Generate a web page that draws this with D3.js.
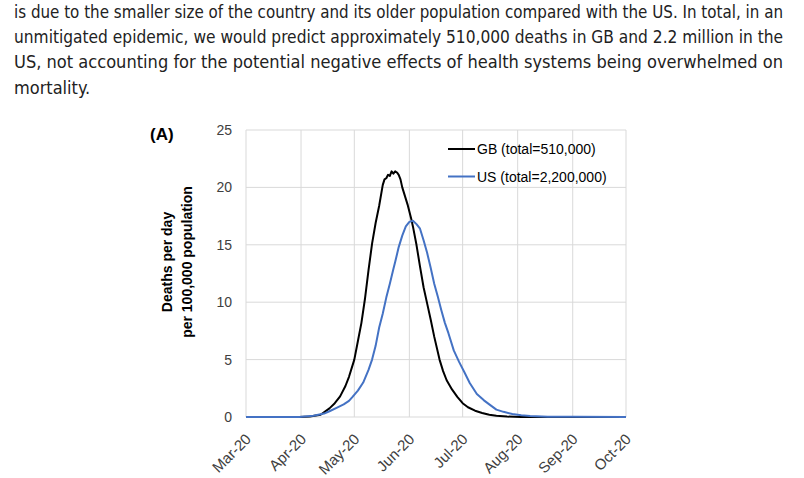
<!DOCTYPE html>
<html>
<head>
<meta charset="utf-8">
<script src="https://cdn.jsdelivr.net/npm/d3@7"></script>
<style>
    body { margin: 0; background: #fff; }
    svg { display: block; }
    .para { font-family: "Liberation Sans Narrow", "DejaVu Sans Condensed", "Liberation Sans", sans-serif; font-size: 18px; fill: #222; }
    .chart text { font-family: "Liberation Sans", Arial, sans-serif; fill: #404040; }
</style>
</head>
<body>
<svg id="fig" width="804" height="478"></svg>
<script>
var paraLines = [
    "is due to the smaller size of the country and its older population compared with the US. In total, in an",
    "unmitigated epidemic, we would predict approximately 510,000 deaths in GB and 2.2 million in the",
    "US, not accounting for the potential negative effects of health systems being overwhelmed on",
    "mortality."
];

// days counted from 1 Mar 2020
var startDate = new Date(2020, 2, 1);
var gbDays = [0, 14, 30, 36, 42, 47, 50, 53, 56, 58, 61, 63, 65, 67, 69, 71, 73, 75, 77, 78, 79, 80, 81, 82, 83, 84, 85, 86, 87, 88, 90, 91, 93, 94, 96, 98, 100, 102, 104, 106, 109, 111, 113, 116, 119, 122, 125, 129, 133, 137, 141, 147, 155, 214];
var gbValues = [0, 0, 0, 0.05, 0.2, 0.75, 1.2, 1.8, 2.7, 3.5, 5.0, 6.6, 8.2, 10.3, 12.8, 15.1, 16.9, 18.4, 20.2, 20.7, 20.8, 21.1, 21.0, 21.4, 21.2, 21.4, 21.3, 21.1, 20.7, 20.0, 19.0, 18.5, 17.3, 16.6, 15.0, 13.1, 11.3, 9.9, 8.5, 7.0, 5.0, 4.0, 3.2, 2.4, 1.75, 1.2, 0.85, 0.55, 0.35, 0.2, 0.1, 0.04, 0, 0];
var usDays = [0, 30, 38, 44, 47, 51, 55, 58, 60, 63, 66, 69, 71, 73, 75, 77, 79, 81, 83, 84, 86, 88, 90, 92, 94, 96, 98, 100, 102, 104, 106, 108, 110, 112, 114, 117, 120, 123, 126, 130, 134, 137, 141, 145, 150, 155, 160, 170, 185, 214];
var usValues = [0, 0, 0.1, 0.3, 0.5, 0.8, 1.1, 1.4, 1.75, 2.3, 3.0, 4.1, 5.0, 6.2, 7.8, 9.0, 10.4, 11.6, 12.9, 13.5, 14.8, 15.8, 16.6, 17.0, 17.1, 16.8, 16.4, 15.4, 14.3, 13.0, 11.6, 10.5, 9.3, 8.2, 7.3, 5.8, 4.8, 3.9, 2.96, 2.0, 1.45, 1.1, 0.64, 0.45, 0.26, 0.15, 0.08, 0.03, 0.02, 0];
var yTicks = [0, 5, 10, 15, 20, 25];
var monthTicks = ["2020-03-01", "2020-04-01", "2020-05-01", "2020-06-01", "2020-07-01", "2020-08-01", "2020-09-01", "2020-10-01"];
var seriesNames = ["GB (total=510,000)", "US (total=2,200,000)"];
var seriesColors = ["#000000", "#4472c4"];

var svg = d3.select("#fig");

// paragraph above the figure, justified except the last line
svg.selectAll("text.para")
    .data(paraLines)
  .enter().append("text")
    .attr("class", "para")
    .attr("x", 14)
    .attr("y", function(d, i) { return 18 + i * 25.2; })
    .each(function(d, i) {
	if (i < paraLines.length - 1)
	    d3.select(this).attr("textLength", 769).attr("lengthAdjust", "spacingAndGlyphs");
    })
    .text(function(d) { return d; });

var g = svg.append("g").attr("class", "chart");
var plotL = 246, plotR = 626, plotT = 130, plotB = 417;

var x = d3.scaleTime()
    .domain([new Date(2020, 2, 1), new Date(2020, 9, 1)])
    .range([plotL, plotR]);
var y = d3.scaleLinear()
    .domain([0, 25])
    .range([plotB, plotT]);

var parse = d3.timeParse("%Y-%m-%d");
var fmt = d3.timeFormat("%b-%y");
var months = monthTicks.map(parse);

// gridlines
g.selectAll("line.hgrid")
    .data(yTicks)
  .enter().append("line")
    .attr("class", "hgrid")
    .attr("x1", plotL).attr("x2", plotR)
    .attr("y1", function(d) { return y(d); })
    .attr("y2", function(d) { return y(d); })
    .attr("stroke", "#d9d9d9").attr("stroke-width", 1);
g.selectAll("line.vgrid")
    .data(months)
  .enter().append("line")
    .attr("class", "vgrid")
    .attr("x1", function(d) { return x(d); })
    .attr("x2", function(d) { return x(d); })
    .attr("y1", plotT).attr("y2", plotB)
    .attr("stroke", "#d9d9d9").attr("stroke-width", 1);

// y tick labels
g.selectAll("text.ytick")
    .data(yTicks)
  .enter().append("text")
    .attr("class", "ytick")
    .attr("x", 232)
    .attr("y", function(d) { return y(d); })
    .attr("dy", "0.36em")
    .attr("text-anchor", "end")
    .style("font-size", "14px")
    .text(function(d) { return d; });

// x tick labels, slanted
g.selectAll("text.xtick")
    .data(months)
  .enter().append("text")
    .attr("class", "xtick")
    .attr("transform", function(d) { return "translate(" + (x(d) + 6) + ",440) rotate(-45)"; })
    .attr("text-anchor", "end")
    .style("font-size", "15px")
    .text(function(d) { return fmt(d); });

// axis title
var yt = g.append("text")
    .attr("transform", "translate(0,262) rotate(-90)")
    .attr("text-anchor", "middle")
    .style("font-size", "14px")
    .style("font-weight", "bold")
    .style("fill", "#000");
yt.append("tspan").attr("x", 0).attr("y", 172).text("Deaths per day");
yt.append("tspan").attr("x", 0).attr("y", 192).text("per 100,000 population");

g.append("text")
    .attr("x", 150).attr("y", 140)
    .style("font-size", "17px")
    .style("font-weight", "bold")
    .style("fill", "#000")
    .text("(A)");

var line = d3.line()
    .x(function(d) { return x(d3.timeDay.offset(startDate, d[0])); })
    .y(function(d) { return y(d[1]); });

var series = [d3.zip(gbDays, gbValues), d3.zip(usDays, usValues)];

g.selectAll("path.series")
    .data(series)
  .enter().append("path")
    .attr("class", "series")
    .attr("d", line)
    .attr("fill", "none")
    .attr("stroke", function(d, i) { return seriesColors[i]; })
    .attr("stroke-width", 2)
    .attr("stroke-linejoin", "round");

// legend
var lg = g.selectAll("g.legend")
    .data(seriesNames)
  .enter().append("g")
    .attr("class", "legend")
    .attr("transform", function(d, i) { return "translate(448," + (149 + i * 27.5) + ")"; });
lg.append("line")
    .attr("x1", 0).attr("x2", 27)
    .attr("stroke", function(d, i) { return seriesColors[i]; })
    .attr("stroke-width", 2);
lg.append("text")
    .attr("x", 29)
    .attr("dy", "0.36em")
    .style("font-size", "14px")
    .style("fill", "#000")
    .text(function(d) { return d; });
</script>
</body>
</html>
